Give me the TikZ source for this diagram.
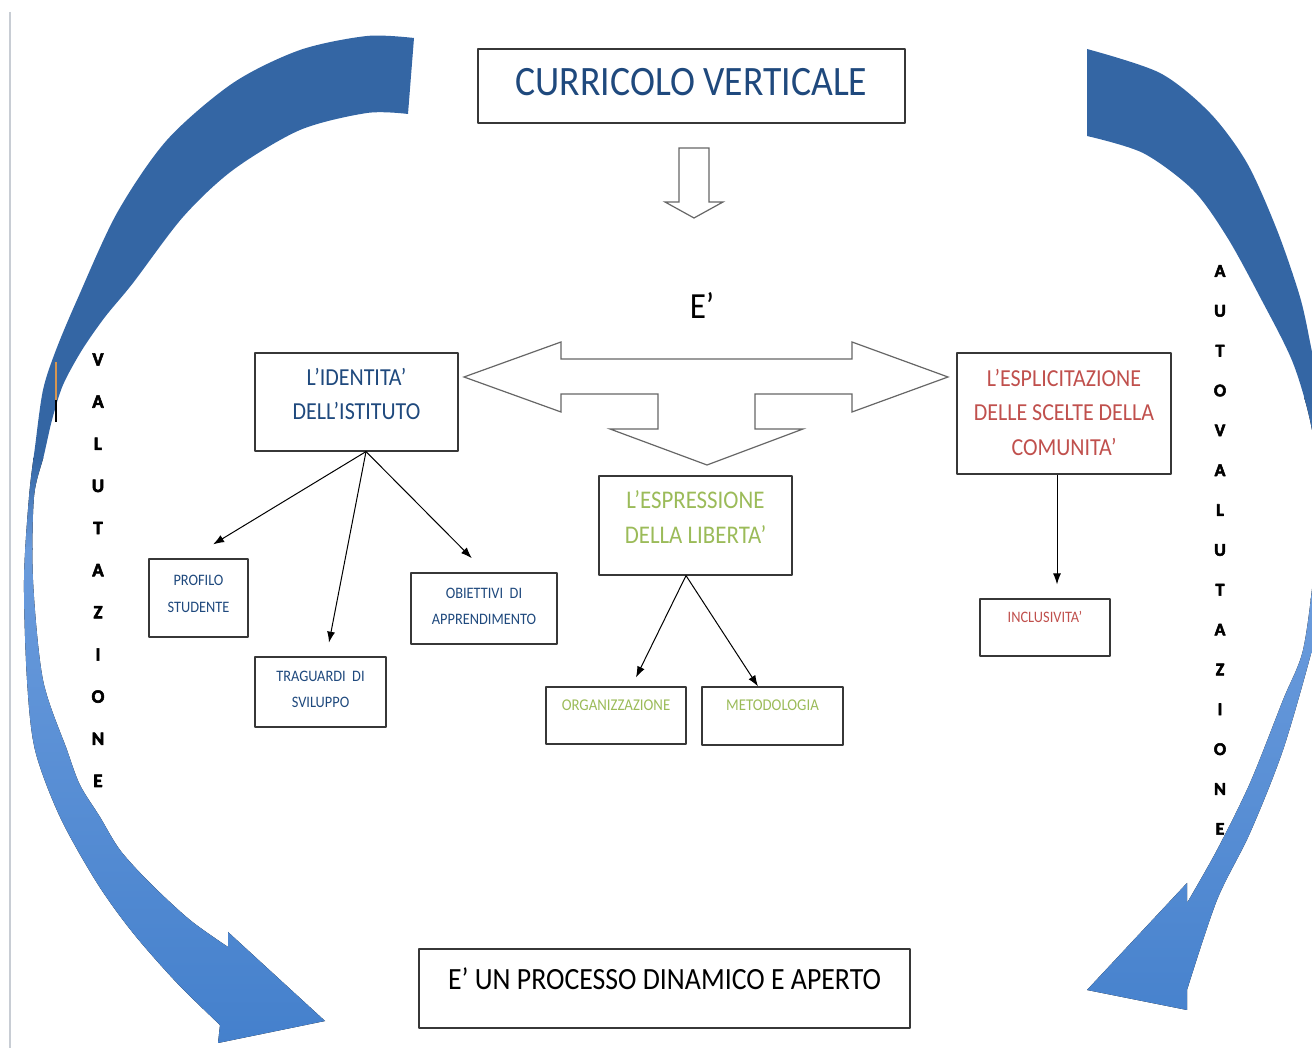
\documentclass[tikz,border=0pt]{standalone}
\usepackage{fontspec}
\setmainfont{Carlito}[FakeStretch=0.9]
\newfontfamily\spelledfont{Carlito Bold}[FakeBold=3]
\usetikzlibrary{arrows.meta}
\definecolor{titleblue}{RGB}{31,73,125}
\definecolor{olivegreen}{RGB}{155,187,89}
\definecolor{brickred}{RGB}{192,80,77}
\definecolor{ribbondark}{RGB}{52,102,164}
\definecolor{ribbonlight}{RGB}{106,155,220}
\definecolor{ribbonbottom}{RGB}{68,128,204}
\definecolor{framegray}{RGB}{55,55,55}
\definecolor{marginline}{RGB}{200,205,212}
\definecolor{caretorange}{RGB}{215,150,80}

\begin{document}
\begin{tikzpicture}[>={Latex[length=11bp,width=8bp]},line join=bevel,
  box/.style={draw=framegray,line width=1.2bp,inner sep=0pt,align=center},
  blockarrow/.style={draw=black!60,line width=1.2bp,fill=white,line join=miter},
  link/.style={->,line width=1bp},
  spelled/.style={inner sep=0pt,align=center}]
  \pgfsetlinewidth{1bp}
  \useasboundingbox (0bp,0bp) rectangle (1312bp,1048bp);
%%
  % Shape: margin line and caret
  \draw[marginline,line width=1.5bp] (10bp,1036bp) -- (10bp,0bp);
  % Shape: left ribbon arrow
\begin{scope}
  \clip plot[smooth] coordinates {(414bp,1010bp) (367bp,1012bp) (300bp,998bp) (233bp,965bp) (167bp,908bp) (117bp,835bp) (77bp,748bp) (56bp,698bp) (43bp,658bp) (35bp,601bp) (29bp,551bp) (24bp,468bp) (27bp,368bp) (35bp,298bp) (60bp,231bp) (97bp,165bp) (133bp,115bp) (177bp,65bp) (220bp,23bp)}
    -- (218bp,5bp) -- (325bp,27bp) -- (228bp,116bp)
    -- plot[smooth] coordinates {(228bp,101bp) (190bp,128bp) (150bp,165bp) (120bp,198bp) (100bp,231bp) (80bp,263bp) (67bp,298bp) (43bp,368bp) (33bp,468bp) (34bp,551bp) (44bp,593bp) (52bp,628bp) (63bp,663bp) (82bp,698bp) (105bp,731bp) (133bp,765bp) (183bp,831bp) (233bp,878bp) (300bp,918bp) (367bp,935bp) (408bp,934bp)} -- cycle;
  \fill[ribbondark] (0bp,588bp) rectangle (430bp,1048bp);
  \fill[top color=ribbondark,bottom color=ribbonlight] (0bp,498bp) rectangle (430bp,590bp);
  \fill[top color=ribbonlight,bottom color=ribbonbottom] (0bp,0bp) rectangle (430bp,500bp);
\end{scope}
  % Shape: right ribbon arrow
\begin{scope}
  \clip (0bp,0bp) rectangle (1312bp,1048bp);
  \clip plot[smooth] coordinates {(1087bp,999bp) (1160bp,975bp) (1210bp,935bp) (1247bp,885bp) (1277bp,818bp) (1300bp,751bp) (1311bp,701bp) (1325bp,628bp) (1332bp,548bp) (1328bp,468bp) (1312bp,398bp) (1283bp,298bp) (1250bp,215bp) (1217bp,148bp) (1187bp,58bp)}
    -- (1187bp,38bp) -- (1087bp,58bp) -- (1187bp,165bp)
    -- plot[smooth] coordinates {(1187bp,145bp) (1217bp,198bp) (1250bp,265bp) (1283bp,348bp) (1303bp,398bp) (1314bp,478bp) (1318bp,548bp) (1312bp,618bp) (1293bp,685bp) (1260bp,751bp) (1227bp,811bp) (1193bp,858bp) (1143bp,895bp) (1087bp,912bp)} -- cycle;
  \fill[ribbondark] (1080bp,648bp) rectangle (1340bp,1048bp);
  \fill[top color=ribbondark,bottom color=ribbonlight] (1080bp,448bp) rectangle (1340bp,650bp);
  \fill[top color=ribbonlight,bottom color=ribbonbottom] (1080bp,0bp) rectangle (1340bp,450bp);
\end{scope}
  \draw[caretorange,line width=1.5bp] (56bp,686bp) -- (56bp,648bp);
  \draw[line width=1.5bp] (56bp,648bp) -- (56bp,626bp);
  % Node: Valutazione
  \node[spelled,font=\spelledfont\fontsize{19}{42.3}\selectfont,text height=435bp,text depth=0bp] (valutazione) at (98bp,478.5bp) {V\\A\\L\\U\\T\\A\\Z\\I\\O\\N\\E};
  % Node: Autovalutazione
  \node[spelled,font=\spelledfont\fontsize{18}{40}\selectfont,text height=571.4bp,text depth=0bp] (autovalutazione) at (1220bp,499bp) {A\\U\\T\\O\\V\\A\\L\\U\\T\\A\\Z\\I\\O\\N\\E};
  % Node: Curricolo
  \node[box,minimum width=427bp,minimum height=74bp,text height=26.5bp,text depth=7bp,text=titleblue,font=\fontsize{42}{50}\selectfont] (curricolo) at (691.5bp,962bp) {CURRICOLO VERTICALE};
  % Shape: hollow arrow down
  \draw[blockarrow] (679bp,900bp) -- (709bp,900bp) -- (709bp,846bp) -- (723bp,846bp) -- (694bp,830bp) -- (665bp,846bp) -- (679bp,846bp) -- cycle;
  % Node: E
  \node[inner sep=0pt,font=\fontsize{37}{44}\selectfont] (e) at (702bp,742bp) {E'};
  % Shape: three-way hollow arrow
  \draw[blockarrow] (464bp,671bp) -- (561bp,706bp) -- (561bp,689bp) -- (852bp,689bp) -- (852bp,706bp) -- (948bp,671bp) -- (852bp,636bp) -- (852bp,654bp) -- (755bp,654bp) -- (755bp,619bp) -- (803bp,619bp) -- (707bp,583bp) -- (610bp,619bp) -- (658bp,619bp) -- (658bp,654bp) -- (561bp,654bp) -- (561bp,636bp) -- cycle;
  % Node: Identita
  \node[box,minimum width=203bp,minimum height=98bp,text height=49.5bp,text depth=14bp,text=titleblue,font=\fontsize{24.5}{34}\selectfont] (identita) at (356.5bp,646bp) {L'IDENTITA'\\DELL'ISTITUTO};
  % Node: Espressione
  \node[box,minimum width=193bp,minimum height=99bp,text height=51.1bp,text depth=16bp,text=olivegreen,font=\fontsize{25.5}{35}\selectfont] (espressione) at (695.5bp,522.5bp) {L'ESPRESSIONE\\DELLA LIBERTA'};
  % Node: Esplicitazione
  \node[box,minimum width=214bp,minimum height=121bp,text height=85.5bp,text depth=1bp,text=brickred,font=\fontsize{24.5}{35}\selectfont] (esplicitazione) at (1064bp,634.5bp) {L'ESPLICITAZIONE\\DELLE SCELTE DELLA\\COMUNITA'};
  % Node: Profilo
  \node[box,minimum width=99bp,minimum height=78bp,text height=37.1bp,text depth=9bp,text=titleblue,font=\fontsize{16}{27}\selectfont] (profilo) at (198.5bp,450bp) {PROFILO\\STUDENTE};
  % Node: Traguardi
  \node[box,minimum width=131bp,minimum height=70bp,text height=36.1bp,text depth=6bp,text=titleblue,font=\fontsize{16}{26}\selectfont] (traguardi) at (320.5bp,356bp) {TRAGUARDI~ DI\\SVILUPPO};
  % Node: Obiettivi
  \node[box,minimum width=146bp,minimum height=71bp,text height=36.1bp,text depth=5bp,text=titleblue,font=\fontsize{16}{26}\selectfont] (obiettivi) at (484bp,439.5bp) {OBIETTIVI~ DI\\APPRENDIMENTO};
  % Node: Organizzazione
  \node[box,minimum width=140bp,minimum height=57bp,text height=10.4bp,text depth=21bp,text=olivegreen,font=\fontsize{16.5}{20}\selectfont] (organizzazione) at (616bp,332.5bp) {ORGANIZZAZIONE};
  % Node: Metodologia
  \node[box,minimum width=141bp,minimum height=58bp,text height=10.4bp,text depth=22bp,text=olivegreen,font=\fontsize{16.5}{20}\selectfont] (metodologia) at (772.5bp,332bp) {METODOLOGIA};
  % Node: Inclusivita
  \node[box,minimum width=130bp,minimum height=57bp,text height=10.1bp,text depth=21bp,text=brickred,font=\fontsize{16}{20}\selectfont] (inclusivita) at (1045bp,420.5bp) {INCLUSIVITA'};
  % Node: Processo
  \node[box,minimum width=491bp,minimum height=79bp,text height=19.6bp,text depth=18bp,font=\fontsize{31}{37}\selectfont] (processo) at (664.5bp,59.5bp) {E' UN PROCESSO DINAMICO E APERTO};
  % Edge: Identita -> Profilo
  \draw[link,shorten >=27bp] ([xshift=9.5bp]identita.south) -- ([xshift=-8.5bp]profilo.north);
  % Edge: Identita -> Traguardi
  \draw[link,shorten >=14bp] ([xshift=9.5bp]identita.south) -- ([xshift=5.8bp]traguardi.north);
  % Edge: Identita -> Obiettivi
  \draw[link,shorten >=20bp] ([xshift=9.5bp]identita.south) -- ([xshift=1.9bp]obiettivi.north);
  % Edge: Espressione -> Organizzazione
  \draw[link,shorten >=10bp] ([xshift=-9.5bp]espressione.south) -- ([xshift=15.6bp]organizzazione.north);
  % Edge: Espressione -> Metodologia
  \draw[link] ([xshift=-9.5bp]espressione.south) -- ([xshift=-14.5bp]metodologia.north);
  % Edge: Esplicitazione -> Inclusivita
  \draw[link,shorten >=14bp] ([xshift=-7bp]esplicitazione.south) -- ([xshift=12bp]inclusivita.north);
%
\end{tikzpicture}
\end{document}
